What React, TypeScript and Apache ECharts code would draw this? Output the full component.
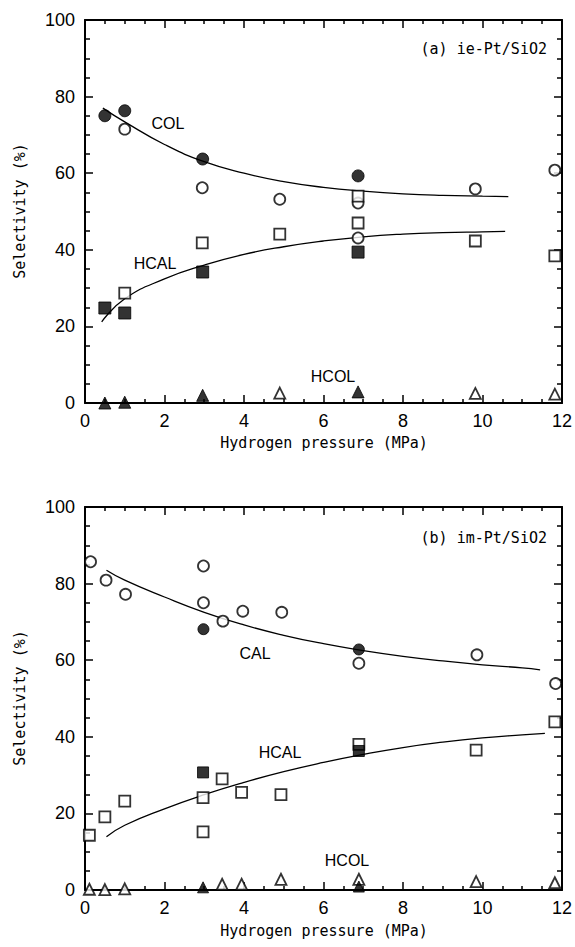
import React, { useEffect, useRef } from "react";
import * as echarts from "echarts";

// ---------- Panel (a) ie-Pt/SiO2 ----------
const aColFilled = [[0.5, 75], [1, 76.3], [2.96, 63.7], [6.87, 59.3]];
const aColOpen = [[1, 71.5], [2.95, 56.2], [4.9, 53.2], [6.87, 52.2], [6.87, 43.1], [9.82, 55.9], [11.82, 60.8]];
const aHcalOpen = [[1, 28.7], [2.95, 41.8], [4.9, 44.1], [6.87, 54.0], [6.87, 47.0], [9.82, 42.3], [11.82, 38.4]];
const aHcalFilled = [[0.5, 24.8], [1, 23.5], [2.96, 34.2], [6.87, 39.4]];
const aHcolOpen = [[4.9, 2.6], [9.82, 2.5], [11.82, 2.3]];
const aHcolFilled = [[0.5, 0], [1, 0.2], [2.96, 2.0], [6.87, 2.9]];
const aColCurve = [[0.45, 77], [1, 73.4], [2, 67.5], [3, 63.0], [4, 60.0], [5, 57.8], [6, 56.3], [7, 55.3], [8, 54.6], [9, 54.2], [10, 54.0], [10.65, 53.9]];
const aHcalCurve = [[0.42, 21.2], [1, 27.2], [2, 32.4], [3, 36.0], [4, 38.8], [5, 40.8], [6, 42.3], [7, 43.4], [8, 44.1], [9, 44.5], [10, 44.7], [10.57, 44.8]];

// ---------- Panel (b) im-Pt/SiO2 ----------
const bCalOpen = [[0.14, 85.7], [0.53, 80.9], [1.02, 77.2], [2.98, 84.6], [2.98, 75.0], [3.47, 70.2], [3.97, 72.8], [4.95, 72.5], [6.89, 59.2], [9.86, 61.4], [11.84, 53.9]];
const bCalFilled = [[2.98, 68.1], [6.89, 62.8]];
const bHcalOpen = [[0.11, 14.3], [0.5, 19.1], [1.0, 23.2], [2.97, 24.1], [2.97, 15.2], [3.45, 29.0], [3.94, 25.5], [4.93, 24.9], [6.89, 38.0], [9.84, 36.5], [11.82, 43.9]];
const bHcalFilled = [[2.97, 30.7], [6.89, 36.3]];
const bHcolOpen = [[0.11, 0.2], [0.5, 0.1], [1.0, 0.3], [3.45, 1.5], [3.94, 1.5], [4.93, 2.8], [6.89, 2.8], [9.84, 2.2], [11.82, 1.9]];
const bHcolFilled = [[2.97, 0.7], [6.89, 0.9]];
const bCalCurve = [[0.54, 83.5], [1, 80.9], [2, 76.5], [3, 72.5], [4, 69.2], [5, 66.5], [6, 64.3], [7, 62.5], [8, 61.0], [9, 59.8], [10, 58.8], [11, 58.0], [11.45, 57.5]];
const bHcalCurve = [[0.54, 13.9], [1, 16.9], [2, 21.2], [3, 24.9], [4, 28.1], [5, 30.9], [6, 33.3], [7, 35.4], [8, 37.2], [9, 38.6], [10, 39.7], [11, 40.5], [11.57, 40.9]];

const panelTitles = ["(a) ie-Pt/SiO2", "(b) im-Pt/SiO2"];
const xTitle = "Hydrogen pressure (MPa)";
const yTitle = "Selectivity (%)";

const MONO = "'DejaVu Sans Mono', monospace";
const NARROW = "'Liberation Sans Narrow', 'Liberation Sans', Arial, sans-serif";

function App() {
  const ref = useRef<HTMLDivElement>(null);
  useEffect(() => {
    document.body.style.margin = "0";
    const chart = echarts.init(ref.current!, null, { renderer: "svg" });
    const grids = [
      { left: 85, top: 20, width: 479, height: 383 },
      { left: 85, top: 507, width: 479, height: 383 },
    ];
    const axisLine = { show: true, onZero: false, lineStyle: { color: "#000", width: 2 } };
    const xAxes: any[] = [];
    const yAxes: any[] = [];
    grids.forEach((_, g) => {
      ["bottom", "top"].forEach((pos) => {
        xAxes.push({
          type: "value", gridIndex: g, position: pos, min: 0, max: 12, interval: 2,
          axisLine, splitLine: { show: false },
          axisTick: { show: true, inside: true, length: 8, lineStyle: { color: "#000", width: 1.5 } },
          minorTick: { show: true, splitNumber: 4, length: 4, lineStyle: { color: "#000", width: 1.5 } },
          axisLabel: { show: pos === "bottom", color: "#000", fontFamily: NARROW, fontSize: 18, margin: 9 },
        });
      });
      ["left", "right"].forEach((pos) => {
        yAxes.push({
          type: "value", gridIndex: g, position: pos, min: 0, max: 100, interval: 20,
          axisLine, splitLine: { show: false },
          axisTick: { show: true, inside: true, length: 8, lineStyle: { color: "#000", width: 1.5 } },
          minorTick: { show: true, splitNumber: 4, length: 5, lineStyle: { color: "#000", width: 1.5 } },
          axisLabel: { show: pos === "left", color: "#000", fontFamily: NARROW, fontSize: 18, margin: 10 },
        });
      });
    });

    const mk = (g: number, data: number[][], symbol: string, filled: boolean, size: number) => ({
      type: "scatter", xAxisIndex: g * 2, yAxisIndex: g * 2, data, symbol, symbolSize: size, z: 3,
      itemStyle: filled
        ? { color: "#000", borderColor: "#000", borderWidth: 1 }
        : { color: "#fff", borderColor: "#000", borderWidth: 1.8 },
    });
    const curve = (g: number, data: number[][]) => ({
      type: "line", xAxisIndex: g * 2, yAxisIndex: g * 2, data, smooth: true,
      showSymbol: false, z: 2,
      lineStyle: { color: "#000", width: 1.3 },
    });

    const series = [
      curve(0, aColCurve), curve(0, aHcalCurve),
      mk(0, aColOpen, "circle", false, 11), mk(0, aColFilled, "circle", true, 12),
      mk(0, aHcalOpen, "rect", false, 11), mk(0, aHcalFilled, "rect", true, 12),
      mk(0, aHcolOpen, "triangle", false, 11), mk(0, aHcolFilled, "triangle", true, 12),
      curve(1, bCalCurve), curve(1, bHcalCurve),
      mk(1, bCalOpen, "circle", false, 11), mk(1, bCalFilled, "circle", true, 11),
      mk(1, bHcalOpen, "rect", false, 11), mk(1, bHcalFilled, "rect", true, 11),
      mk(1, bHcolOpen, "triangle", false, 11), mk(1, bHcolFilled, "triangle", true, 11),
    ];

    const lbl = (x: number, y: number, text: string, font = NARROW, size = 16, align = "center") => ({
      type: "text", x, y, z: 10,
      style: { text, fill: "#000", font: `${size}px ${font}`, align, verticalAlign: "middle" },
    });

    chart.setOption({
      animation: false,
      backgroundColor: "#fff",
      grid: grids,
      xAxis: xAxes,
      yAxis: yAxes,
      series,
      graphic: [
        lbl(168, 123, "COL"),
        lbl(155, 263, "HCAL"),
        lbl(333, 376, "HCOL"),
        lbl(547, 49, panelTitles[0], MONO, 15, "right"),
        lbl(255, 653, "CAL"),
        lbl(280, 752, "HCAL"),
        lbl(347, 860, "HCOL"),
        lbl(547, 538, panelTitles[1], MONO, 15, "right"),
        lbl(324, 443, xTitle, MONO, 15),
        lbl(324, 931, xTitle, MONO, 15),
        { ...lbl(20, 211, yTitle, MONO, 15), rotation: Math.PI / 2 },
        { ...lbl(20, 698, yTitle, MONO, 15), rotation: Math.PI / 2 },
      ],
    });
    return () => chart.dispose();
  }, []);
  return <div ref={ref} style={{ width: 575, height: 947 }} />;
}

export default App;
